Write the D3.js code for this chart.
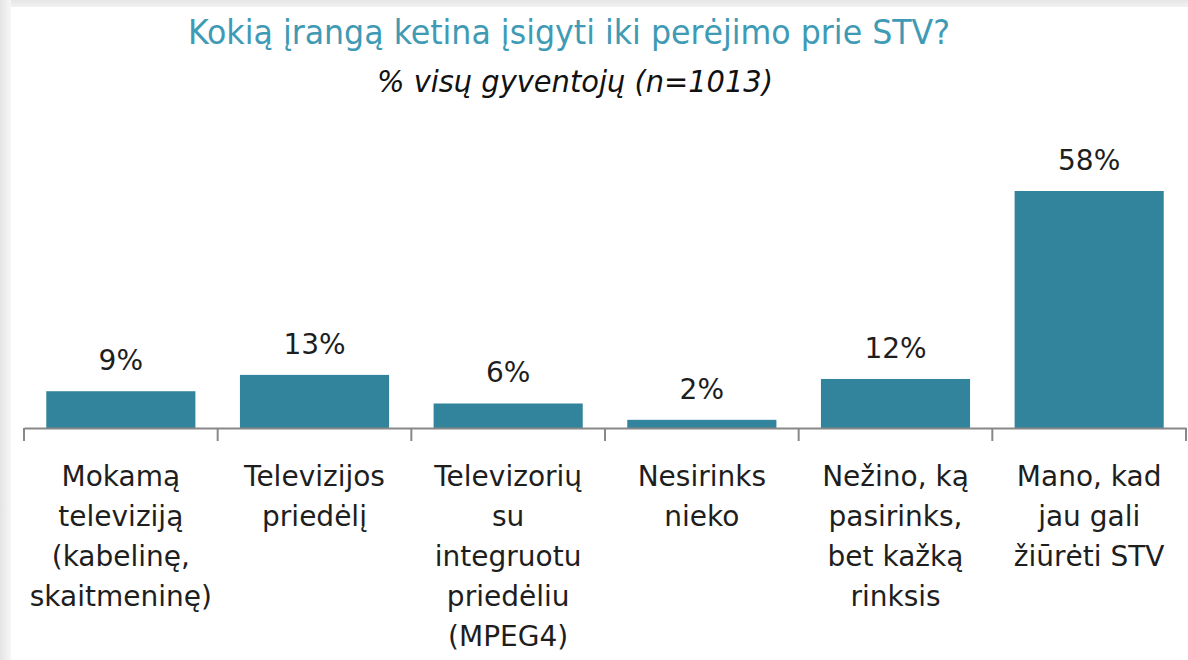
<!DOCTYPE html>
<html>
<head>
<meta charset="utf-8">
<script src="https://cdn.jsdelivr.net/npm/d3@7"></script>
<style>
  html, body { margin: 0; padding: 0; background: #ffffff; }
  svg { display: block; }
</style>
</head>
<body>
<svg id="chart" width="1188" height="660"></svg>
<script>
const titleText = "Kokią įrangą ketina įsigyti iki perėjimo prie STV?";
const subtitleText = "% visų gyventojų (n=1013)";
const categories = [
  "Mokamą\ntelevizijią\n(kabelinę,\nskaitmeninę)".replace("televizijią", "televiziją"),
  "Televizijos\npriedėlį",
  "Televizorių\nsu\nintegruotu\npriedėliu\n(MPEG4)",
  "Nesirinks\nnieko",
  "Nežino, ką\npasirinks,\nbet kažką\nrinksis",
  "Mano, kad\njau gali\nžiūrėti STV"
];
const values = [9, 13, 6, 2, 12, 58];
const valueLabels = ["9%", "13%", "6%", "2%", "12%", "58%"];

const W = 1188, H = 660;
const svg = d3.select("#chart");
const defs = svg.append("defs");

// frame shadow
const gl = defs.append("linearGradient").attr("id", "gl").attr("x1", 0).attr("x2", 1).attr("y1", 0).attr("y2", 0);
gl.append("stop").attr("offset", "0%").attr("stop-color", "#e4e4e4");
gl.append("stop").attr("offset", "100%").attr("stop-color", "#f7f7f7");
const gt = defs.append("linearGradient").attr("id", "gt").attr("x1", 0).attr("x2", 0).attr("y1", 0).attr("y2", 1);
gt.append("stop").attr("offset", "0%").attr("stop-color", "#e6e6e6");
gt.append("stop").attr("offset", "100%").attr("stop-color", "#f2f2f2");

svg.append("rect").attr("x", 0).attr("y", 0).attr("width", W).attr("height", H).attr("fill", "#ffffff");
svg.append("rect").attr("x", 0).attr("y", 0).attr("width", W).attr("height", 7).attr("fill", "url(#gt)");
svg.append("rect").attr("x", 0).attr("y", 0).attr("width", 11).attr("height", H).attr("fill", "url(#gl)");

// titles
svg.append("text")
  .attr("x", 569).attr("y", 44)
  .attr("text-anchor", "middle")
  .attr("font-family", "DejaVu Sans Condensed, DejaVu Sans, sans-serif")
  .attr("font-size", 34)
  .attr("fill", "#3f9bb5")
  .attr("textLength", 762).attr("lengthAdjust", "spacingAndGlyphs")
  .text(titleText);

svg.append("text")
  .attr("x", 575).attr("y", 92)
  .attr("text-anchor", "middle")
  .attr("font-family", "DejaVu Sans Condensed, DejaVu Sans, sans-serif")
  .attr("font-style", "italic")
  .attr("font-size", 30)
  .attr("fill", "#111111")
  .attr("textLength", 396).attr("lengthAdjust", "spacingAndGlyphs")
  .text(subtitleText);

// scales
const x = d3.scaleBand()
  .domain(categories)
  .range([24, 1186])
  .paddingInner(0.23)
  .paddingOuter(0.115);

const axisY = 428;
const y = d3.scaleLinear().domain([0, 58]).range([axisY, 191]);

// bars
svg.append("g").selectAll("rect")
  .data(values)
  .join("rect")
  .attr("x", (d, i) => x(categories[i]))
  .attr("y", d => y(d))
  .attr("width", x.bandwidth())
  .attr("height", d => axisY - y(d))
  .attr("fill", "#31849b");

// value labels
svg.append("g").selectAll("text")
  .data(values)
  .join("text")
  .attr("x", (d, i) => x(categories[i]) + x.bandwidth() / 2)
  .attr("y", d => y(d) - 21)
  .attr("text-anchor", "middle")
  .attr("font-family", "DejaVu Sans, sans-serif")
  .attr("font-size", 28)
  .attr("fill", "#1e1e1e")
  .text((d, i) => valueLabels[i]);

// axis
const axisG = svg.append("g")
  .attr("transform", `translate(0,${axisY})`)
  .call(d3.axisBottom(x).tickSize(0).tickSizeOuter(0).tickFormat(""));
axisG.select(".domain").attr("stroke", "#888888").attr("stroke-width", 2);

const step = x.step();
const bounds = categories.map(c => x(c) - step * x.paddingInner() / 2);
bounds.push(bounds[bounds.length - 1] + step);
axisG.selectAll("line.sep")
  .data(bounds)
  .join("line")
  .attr("class", "sep")
  .attr("x1", d => d).attr("x2", d => d)
  .attr("y1", 0).attr("y2", 13)
  .attr("stroke", "#888888").attr("stroke-width", 2);

// category labels
const lab = svg.append("g").selectAll("text")
  .data(categories)
  .join("text")
  .attr("x", d => x(d) + x.bandwidth() / 2)
  .attr("y", 486)
  .attr("text-anchor", "middle")
  .attr("font-family", "DejaVu Sans, sans-serif")
  .attr("font-size", 28)
  .attr("fill", "#1e1e1e");
lab.each(function(d) {
  const t = d3.select(this);
  d.split("\n").forEach((line, i) => {
    t.append("tspan")
      .attr("x", x(d) + x.bandwidth() / 2)
      .attr("dy", i === 0 ? 0 : 40)
      .text(line);
  });
});
</script>
</body>
</html>
